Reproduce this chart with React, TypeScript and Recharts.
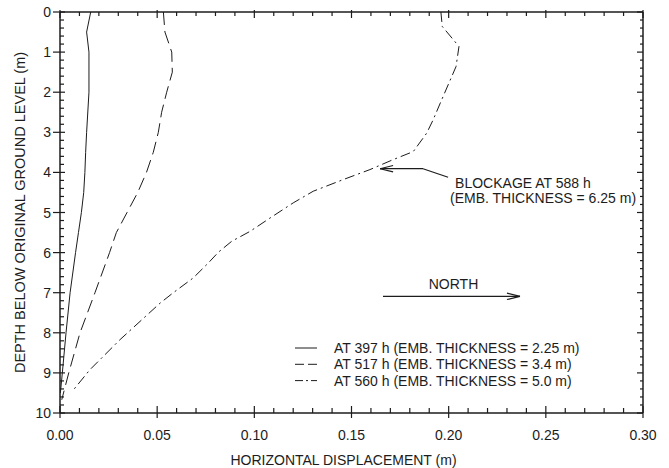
import React from 'react';
import { LineChart, Line, XAxis, YAxis, Legend, ReferenceLine, ReferenceDot } from 'recharts';

// ---- data (depth in m, horizontal displacement in m) ----
const depth397 = [0, 0.5, 1.0, 2.0, 3.0, 3.5, 4.0, 4.5, 5.0, 5.5, 6.0, 7.0, 8.0, 9.0, 9.5];
const disp397 = [0.0158, 0.0137, 0.0149, 0.0149, 0.0137, 0.0132, 0.0128, 0.0122, 0.011, 0.0095, 0.008, 0.0052, 0.0031, 0.0012, 0.0002];

const depth517 = [0, 0.5, 1.0, 1.5, 2.0, 2.5, 3.0, 3.5, 4.0, 4.5, 5.0, 5.5, 6.0, 7.0, 8.0, 9.0, 9.67];
const disp517 = [0.0532, 0.054, 0.0575, 0.0578, 0.0549, 0.0523, 0.0506, 0.048, 0.0445, 0.04, 0.0345, 0.029, 0.0255, 0.018, 0.0103, 0.0045, 0.0009];

const depth560 = [0, 0.36, 0.86, 1.36, 2.19, 2.69, 3.02, 3.48, 3.68, 3.93, 4.18, 4.47, 4.76, 5.14, 5.47, 5.72, 5.99, 6.26, 6.63, 7.0, 7.26, 8.17, 8.92, 9.46];
const disp560 = [0.196, 0.1967, 0.2053, 0.2038, 0.1964, 0.192, 0.1887, 0.1818, 0.1715, 0.1595, 0.1457, 0.1303, 0.12, 0.108, 0.0978, 0.0883, 0.0815, 0.0763, 0.0686, 0.0583, 0.0515, 0.0309, 0.0154, 0.0063];

const seriesNames = [
  'AT 397 h (EMB. THICKNESS = 2.25 m)',
  'AT 517 h (EMB. THICKNESS = 3.4 m)',
  'AT 560 h (EMB. THICKNESS = 5.0 m)',
];

const xTickValues = [0, 0.01, 0.02, 0.03, 0.04, 0.05, 0.06, 0.07, 0.08, 0.09, 0.1, 0.11, 0.12, 0.13, 0.14, 0.15, 0.16, 0.17, 0.18, 0.19, 0.2, 0.21, 0.22, 0.23, 0.24, 0.25, 0.26, 0.27, 0.28, 0.29, 0.3];
const yTickValues = Array.from({ length: 51 }, (_, i) => Math.round(i * 2) / 10);

const X_MIN = 0;
const X_MAX = 0.3;
const D_MIN = 0;
const D_MAX = 10;

// annotations (data coordinates)
const northArrow = { from: 0.1662, to: 0.2367, depth: 7.09 };
const northLabel = { x: 0.2025, depth: 6.91, text: 'NORTH' };
const blockArrow = { tip: 0.1647, elbow: 0.1868, end: 0.1997, depth: 3.908, endDepth: 4.12 };
const blockLabel1 = { x: 0.2033, depth: 4.38, text: 'BLOCKAGE AT 588 h' };
const blockLabel2 = { x: 0.2007, depth: 4.755, text: '(EMB. THICKNESS = 6.25 m)' };

const xTitle = 'HORIZONTAL DISPLACEMENT (m)';
const yTitle = 'DEPTH BELOW ORIGINAL GROUND LEVEL (m)';

const INK = '#1c1c1c';
const FONT = '"Liberation Sans", Arial, Helvetica, sans-serif';

const toPoints = (depths: number[], disps: number[]) => depths.map((d, i) => ({ x: disps[i], d }));
const data397 = toPoints(depth397, disp397);
const data517 = toPoints(depth517, disp517);
const data560 = toPoints(depth560, disp560);

const DASHES = ['', '13 6', '10 4 2 4'];

const isMajorX = (v: number) => Math.round(v * 100) % 5 === 0;
const isMajorY = (v: number) => Math.abs(v - Math.round(v)) < 1e-6;

// tick-mark lengths expressed in axis units (plot is 583 px x 401 px)
const PX_X = (X_MAX - X_MIN) / 583;
const PX_D = (D_MAX - D_MIN) / 401;

const XTickBottom = (props: any) => {
  const { x, y, payload } = props;
  const v = payload.value as number;
  if (!isMajorX(v)) return <g />;
  return (
    <text x={x} y={y + 27} textAnchor="middle" fontSize={14} fill={INK} fontFamily={FONT}>
      {v.toFixed(2)}
    </text>
  );
};

const YTickLeft = (props: any) => {
  const { x, y, payload } = props;
  const v = payload.value as number;
  if (!isMajorY(v)) return <g />;
  return (
    <text x={x - 9} y={y + 5} textAnchor="end" fontSize={14} fill={INK} fontFamily={FONT}>
      {Math.round(v)}
    </text>
  );
};

const XTitle = (props: any) => {
  const vb = props.viewBox || {};
  return (
    <text x={vb.x + vb.width / 2 - 8} y={vb.y + 52} textAnchor="middle" fontSize={14} fill={INK} fontFamily={FONT}>
      {xTitle}
    </text>
  );
};

const YTitle = (props: any) => {
  const vb = props.viewBox || {};
  const cx = vb.x + 25;
  const cy = vb.y + vb.height / 2;
  return (
    <text x={cx} y={cy} transform={`rotate(-90 ${cx} ${cy})`} textAnchor="middle" fontSize={14.5} fill={INK} fontFamily={FONT}>
      {yTitle}
    </text>
  );
};

const LegendContent = () => (
  <svg width={360} height={52} style={{ overflow: 'visible' }}>
    {seriesNames.map((name, i) => {
      const cy = 12 + i * 16.3;
      return (
        <g key={name}>
          <line x1={5} x2={27} y1={cy} y2={cy} stroke={INK} strokeWidth={1} strokeDasharray={i === 1 ? '9 4' : i === 2 ? '8 3 2 3' : undefined} />
          <text x={44} y={cy + 5} fontSize={14} fill={INK} fontFamily={FONT}>
            {name}
          </text>
        </g>
      );
    })}
  </svg>
);

const TextMark = (text: string, anchor: 'start' | 'middle') => (p: any) => (
  <text x={p.cx} y={p.cy} textAnchor={anchor} fontSize={14} fill={INK} fontFamily={FONT}>
    {text}
  </text>
);

type Seg = [{ x: number; y: number }, { x: number; y: number }];

// frame + tick marks as segments in data space
const frameSegments: Seg[] = [
  [{ x: X_MIN, y: D_MIN }, { x: X_MAX, y: D_MIN }],
  [{ x: X_MIN, y: D_MAX }, { x: X_MAX, y: D_MAX }],
  [{ x: X_MIN, y: D_MIN }, { x: X_MIN, y: D_MAX }],
  [{ x: X_MAX, y: D_MIN }, { x: X_MAX, y: D_MAX }],
];

const tickSegments: Seg[] = [
  ...xTickValues.map((v): Seg => {
    const m = isMajorX(v);
    return [{ x: v, y: D_MAX - (m ? 7 : 5) * PX_D }, { x: v, y: D_MAX + (m ? 5 : 0) * PX_D }];
  }),
  ...xTickValues.map((v): Seg => {
    const m = isMajorX(v);
    return [{ x: v, y: D_MIN - (m ? 2 : 0) * PX_D }, { x: v, y: D_MIN + (m ? 6 : 4) * PX_D }];
  }),
  ...yTickValues.map((v): Seg => {
    const m = isMajorY(v);
    return [{ x: X_MIN - (m ? 7 : 0) * PX_X, y: v }, { x: X_MIN + (m ? 5 : 4) * PX_X, y: v }];
  }),
  ...yTickValues.map((v): Seg => {
    const m = isMajorY(v);
    return [{ x: X_MAX - (m ? 6 : 3) * PX_X, y: v }, { x: X_MAX, y: v }];
  }),
];

export default function App() {
  const dx = 0.0067;
  const dy = 0.08;
  return (
    <div style={{ position: 'absolute', left: 0, top: 0, background: '#fff' }}>
      <LineChart width={669} height={468} margin={{ top: 12, right: 26, bottom: 0, left: 0 }}>
        <XAxis
          xAxisId="bottom"
          orientation="bottom"
          type="number"
          dataKey="x"
          domain={[X_MIN, X_MAX]}
          allowDataOverflow
          ticks={xTickValues}
          interval={0}
          tickSize={0}
          tickMargin={0}
          tickLine={false}
          axisLine={false}
          tick={<XTickBottom />}
          height={55}
          label={<XTitle />}
        />
        <YAxis
          yAxisId="left"
          orientation="left"
          type="number"
          reversed
          domain={[D_MIN, D_MAX]}
          allowDataOverflow
          ticks={yTickValues}
          interval={0}
          tickSize={0}
          tickMargin={0}
          tickLine={false}
          axisLine={false}
          tick={<YTickLeft />}
          width={60}
          label={<YTitle />}
        />

        {frameSegments.map((s, i) => (
          <ReferenceLine key={`f${i}`} xAxisId="bottom" yAxisId="left" segment={s} stroke={INK} strokeWidth={1.5} ifOverflow="visible" />
        ))}
        {tickSegments.map((s, i) => (
          <ReferenceLine key={`t${i}`} xAxisId="bottom" yAxisId="left" segment={s} stroke={INK} strokeWidth={1.2} ifOverflow="visible" />
        ))}

        <Line data={data397} dataKey="d" name={seriesNames[0]} xAxisId="bottom" yAxisId="left" type="linear" stroke={INK} strokeWidth={1} dot={false} activeDot={false} isAnimationActive={false} />
        <Line data={data517} dataKey="d" name={seriesNames[1]} xAxisId="bottom" yAxisId="left" type="linear" stroke={INK} strokeWidth={1} strokeDasharray={DASHES[1]} dot={false} activeDot={false} isAnimationActive={false} />
        <Line data={data560} dataKey="d" name={seriesNames[2]} xAxisId="bottom" yAxisId="left" type="linear" stroke={INK} strokeWidth={1} strokeDasharray={DASHES[2]} dot={false} activeDot={false} isAnimationActive={false} />

        {/* NORTH arrow */}
        <ReferenceLine xAxisId="bottom" yAxisId="left" segment={[{ x: northArrow.from, y: northArrow.depth }, { x: northArrow.to, y: northArrow.depth }]} stroke={INK} strokeWidth={1.2} />
        <ReferenceLine xAxisId="bottom" yAxisId="left" segment={[{ x: northArrow.to - dx, y: northArrow.depth - dy }, { x: northArrow.to, y: northArrow.depth }]} stroke={INK} strokeWidth={1.2} />
        <ReferenceLine xAxisId="bottom" yAxisId="left" segment={[{ x: northArrow.to - dx, y: northArrow.depth + dy }, { x: northArrow.to, y: northArrow.depth }]} stroke={INK} strokeWidth={1.2} />
        <ReferenceDot xAxisId="bottom" yAxisId="left" x={northLabel.x} y={northLabel.depth} r={0} shape={TextMark(northLabel.text, 'middle')} />

        {/* BLOCKAGE arrow */}
        <ReferenceLine xAxisId="bottom" yAxisId="left" segment={[{ x: blockArrow.tip, y: blockArrow.depth }, { x: blockArrow.elbow, y: blockArrow.depth }]} stroke={INK} strokeWidth={1.2} />
        <ReferenceLine xAxisId="bottom" yAxisId="left" segment={[{ x: blockArrow.elbow, y: blockArrow.depth }, { x: blockArrow.end, y: blockArrow.endDepth }]} stroke={INK} strokeWidth={1.2} />
        <ReferenceLine xAxisId="bottom" yAxisId="left" segment={[{ x: blockArrow.tip + dx, y: blockArrow.depth - dy }, { x: blockArrow.tip, y: blockArrow.depth }]} stroke={INK} strokeWidth={1.2} />
        <ReferenceLine xAxisId="bottom" yAxisId="left" segment={[{ x: blockArrow.tip + dx, y: blockArrow.depth + dy }, { x: blockArrow.tip, y: blockArrow.depth }]} stroke={INK} strokeWidth={1.2} />
        <ReferenceDot xAxisId="bottom" yAxisId="left" x={blockLabel1.x} y={blockLabel1.depth} r={0} shape={TextMark(blockLabel1.text, 'start')} />
        <ReferenceDot xAxisId="bottom" yAxisId="left" x={blockLabel2.x} y={blockLabel2.depth} r={0} shape={TextMark(blockLabel2.text, 'start')} />

        <Legend
          layout="vertical"
          align="center"
          verticalAlign="middle"
          content={<LegendContent />}
          wrapperStyle={{ position: 'absolute', left: 290, top: 336, width: 360, height: 52 }}
        />
      </LineChart>
    </div>
  );
}
